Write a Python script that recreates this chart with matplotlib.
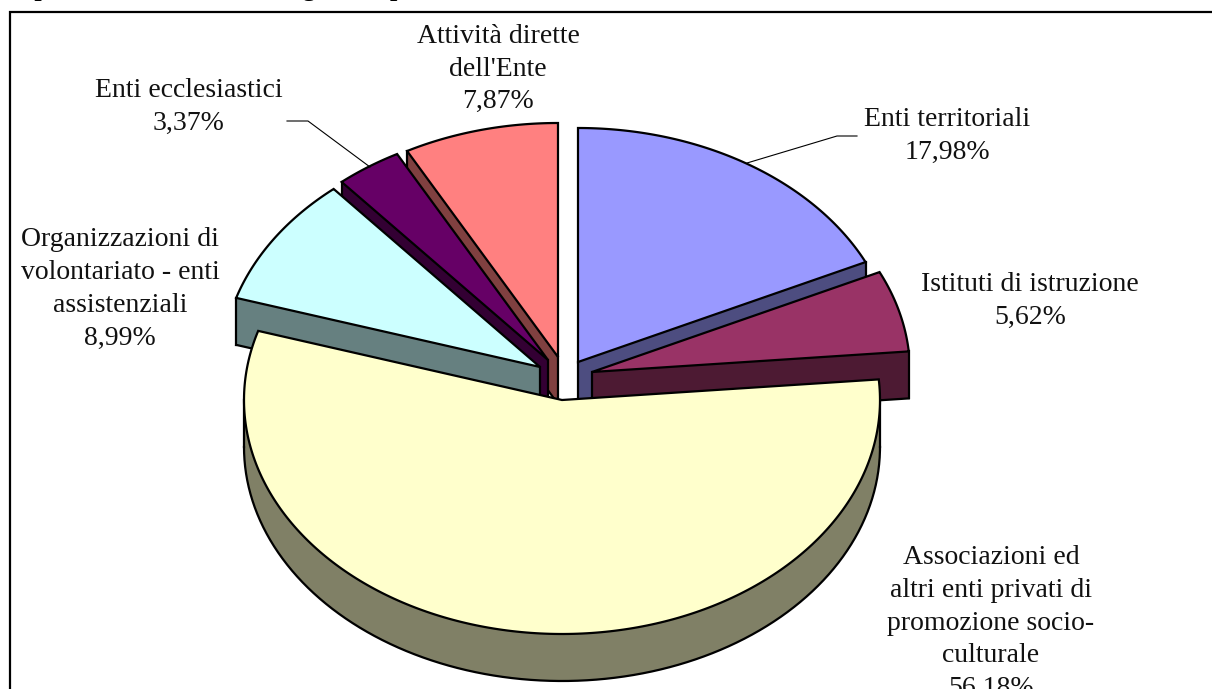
import numpy as np
import matplotlib
matplotlib.use("Agg")
import matplotlib.pyplot as plt

# data, clockwise from 12 o'clock
labels = ["Enti territoriali", "Istituti di istruzione",
          "Associazioni ed\naltri enti privati di\npromozione socio-\nculturale",
          "Organizzazioni di\nvolontariato - enti\nassistenziali",
          "Enti ecclesiastici", "Attività dirette\ndell'Ente"]
values = [17.98, 5.62, 56.18, 8.99, 3.37, 7.87]
colors = ["#9999FF", "#993366", "#FFFFCC", "#CCFFFF", "#660066", "#FF8080"]
sides = ["#4D4D80", "#4D1A33", "#808066", "#668080", "#330033", "#804040"]

# where each slice apex ends up after the explosion (pixels)
apex_x = [578, 592, 562, 540, 548, 558]
apex_y = [362, 372, 400, 367, 360, 357]
# label centres (pixels)
label_x = [947, 1030, 991, 120, 189, 498]
label_y = [136, 301, 623, 289, 107, 69]

RX, RY = 318, 234
DEPTH = 47
TEXT = "#111111"
FONT = "Liberation Serif"

fig = plt.figure(figsize=(12.12, 6.89), dpi=100)
ax = fig.add_axes([0, 0, 1, 1])
ax.set_xlim(0, 1212)
ax.set_ylim(689, 0)
ax.axis("off")

angles = np.cumsum([0] + values) / sum(values) * 2 * np.pi


def draw_slice(i, z):
    # outline goes clockwise on screen: apex, then the arc
    th = np.linspace(angles[i], angles[i + 1], 240)
    # keep the widest points of the ellipse exact, the side walls turn there
    for t in (np.pi / 2, 3 * np.pi / 2):
        if angles[i] < t < angles[i + 1]:
            th = np.sort(np.append(th, t))
    x = np.r_[apex_x[i], apex_x[i] + RX * np.sin(th)]
    y = np.r_[apex_y[i], apex_y[i] - RY * np.cos(th)]
    xs = np.r_[x, x[0]]
    ys = np.r_[y, y[0]]
    # segments running leftwards face the viewer
    idx = np.flatnonzero(np.diff(xs) < -1e-9)
    a, b = idx[0], idx[-1] + 1
    wx = xs[a:b + 1]
    wy = ys[a:b + 1]
    ax.fill(np.r_[wx, wx[::-1]], np.r_[wy, wy[::-1] + DEPTH], color=sides[i], lw=0, zorder=z)
    ax.plot(wx, wy + DEPTH, color="black", lw=1.6, zorder=z + 0.1)
    ax.plot([wx[0], wx[0]], [wy[0], wy[0] + DEPTH], color="black", lw=1.6, zorder=z + 0.1)
    ax.plot([wx[-1], wx[-1]], [wy[-1], wy[-1] + DEPTH], color="black", lw=1.6, zorder=z + 0.1)
    ax.fill(x, y, facecolor=colors[i], edgecolor="black", lw=1.6,
            joinstyle="miter", zorder=z + 0.2)


# back slices first, the big one last
for z, i in enumerate([5, 4, 3, 0, 1, 2]):
    draw_slice(i, z + 1)

# leader lines
ax.plot([747, 837, 857], [163, 136, 136], color="black", lw=0.8, zorder=8)
ax.plot([287, 308, 370], [121, 121, 167], color="black", lw=0.8, zorder=8)

# labels
for i in range(len(labels)):
    pct = f"{values[i]:.2f}".replace(".", ",") + "%"
    ax.text(label_x[i], label_y[i], labels[i] + "\n" + pct, ha="center", va="center",
            fontsize=20, family=FONT, color=TEXT, linespacing=1.41, zorder=9)

# chart frame: left and top only, the rest is cut off
ax.plot([9.5, 9.5, 1212], [689, 12, 12], color="black", lw=1.6,
        solid_joinstyle="miter", zorder=10)

# title is cut by the top of the picture, only descenders show
fig.text(8 / 1212, 1 + 4 / 689, "Ripartizione delle rate erogazioni per",
         family=FONT, weight="bold", fontsize=19, color="black", ha="left", va="baseline")

fig.savefig("out.png", dpi=100)
